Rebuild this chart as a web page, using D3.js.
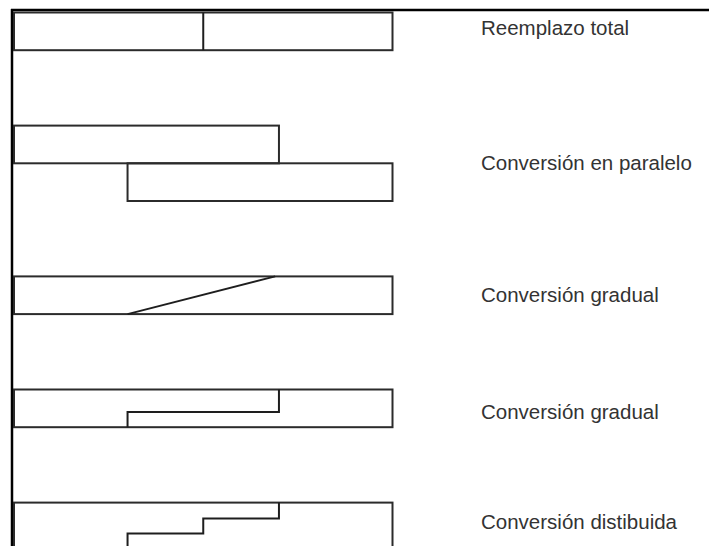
<!DOCTYPE html>
<html>
<head>
<meta charset="utf-8">
<script src="https://cdn.jsdelivr.net/npm/d3@7"></script>
<style>
  body { margin: 0; background: #fff; }
  svg { display: block; }
</style>
</head>
<body>
<svg id="chart" width="709" height="546"></svg>
<script>
// time points along the bars (arbitrary units)
var timeTicks = [0, 3, 5, 7, 10];
var labels = ["Reemplazo total", "Conversión en paralelo", "Conversión gradual", "Conversión gradual", "Conversión distibuida"];
// vertical position of each label (row units)
var labelRows = [0.4, 4, 7.5, 10.6, 13.5];

// bars: [t start, t end, row top, row bottom]
var bars = [
  [0, 10, 0, 1],
  [0, 7, 3, 4],
  [3, 10, 4, 5],
  [0, 10, 7, 8],
  [0, 10, 10, 11],
  [0, 10, 13, 14.25]
];
// lines inside the bars: lists of [t, row]
var switchLines = [
  [[5, 0], [5, 1]],
  [[3, 8], [6.9, 7]],
  [[7, 10], [7, 10.6], [3, 10.6], [3, 11]],
  [[7, 13], [7, 13.42], [5, 13.42], [5, 13.82], [3, 13.82], [3, 14.25]]
];

var svg = d3.select("#chart"),
    width = +svg.attr("width"),
    height = +svg.attr("height");

var x = d3.scaleLinear().domain([0, 10]).range([14, 392.5]),
    y = d3.scaleLinear().domain([0, 1]).range([12.5, 50.2]);

// frame lines
svg.append("line")
    .attr("x1", 11).attr("x2", width)
    .attr("y1", 10).attr("y2", 10)
    .attr("stroke", "#000").attr("stroke-width", 2.5);
svg.append("line")
    .attr("x1", 12).attr("x2", 12)
    .attr("y1", 9).attr("y2", height)
    .attr("stroke", "#000").attr("stroke-width", 2.5);

var g = svg.append("g");

g.selectAll(".bar")
    .data(bars)
  .enter().append("rect")
    .attr("class", "bar")
    .attr("x", function(d) { return x(d[0]); })
    .attr("y", function(d) { return y(d[2]); })
    .attr("width", function(d) { return x(d[1]) - x(d[0]); })
    .attr("height", function(d) { return y(d[3]) - y(d[2]); })
    .attr("fill", "none")
    .attr("stroke", "#2b2b2b")
    .attr("stroke-width", 2);

var line = d3.line()
    .x(function(d) { return x(d[0]); })
    .y(function(d) { return y(d[1]); });

g.selectAll(".switch")
    .data(switchLines)
  .enter().append("path")
    .attr("class", "switch")
    .attr("d", line)
    .attr("fill", "none")
    .attr("stroke", "#1e1e1e")
    .attr("stroke-width", 2);

svg.append("g")
    .attr("font-family", "Liberation Sans, Arial, sans-serif")
    .attr("font-size", 20.5)
    .attr("fill", "#333")
  .selectAll("text")
    .data(labels)
  .enter().append("text")
    .attr("x", 481)
    .attr("y", function(d, i) { return y(labelRows[i]); })
    .attr("dy", "0.35em")
    .text(function(d) { return d; });
</script>
</body>
</html>
